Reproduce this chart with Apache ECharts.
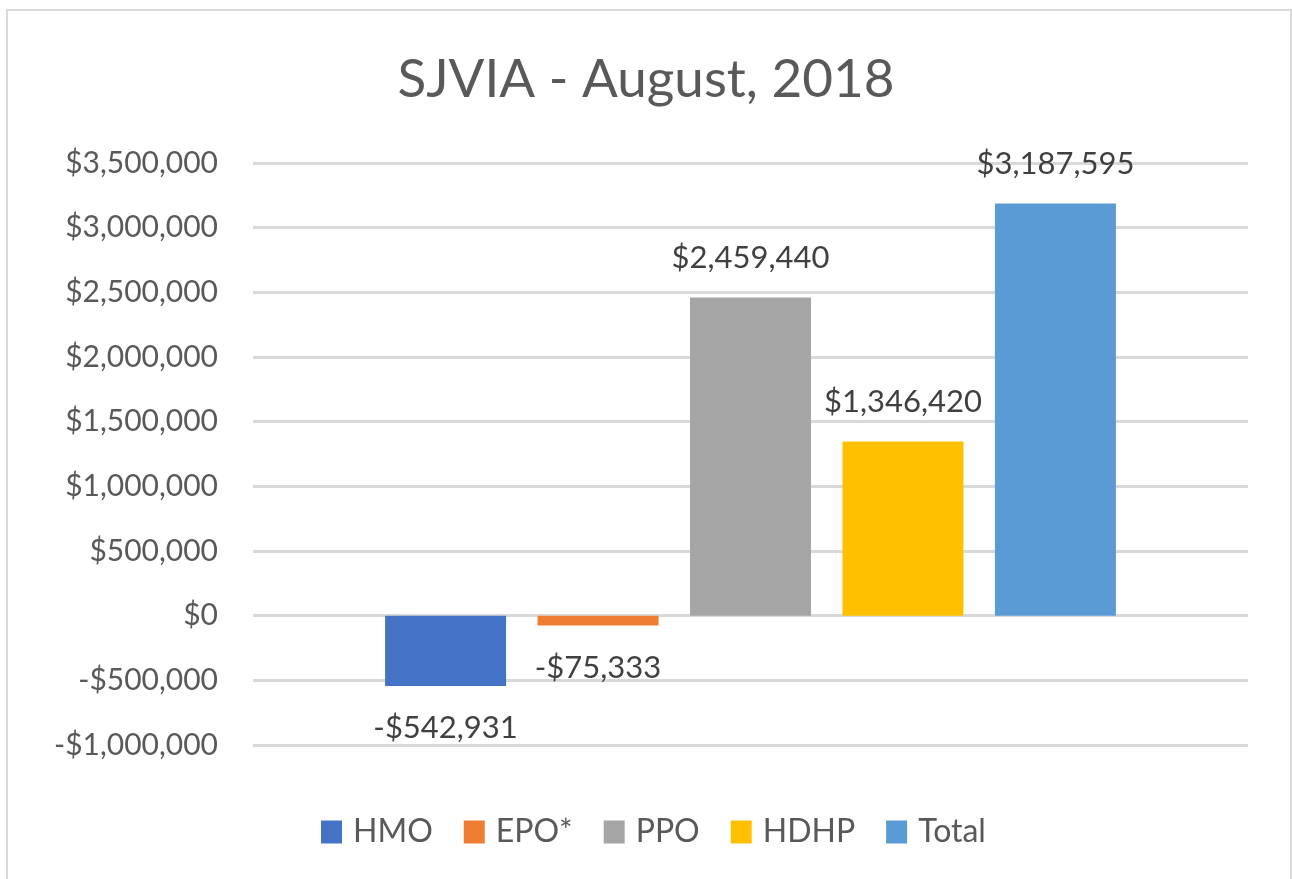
<!DOCTYPE html>
<html>
<head>
<meta charset="utf-8">
<script src="https://cdn.jsdelivr.net/npm/echarts@6/dist/echarts.min.js"></script>
<style>
  html, body { margin: 0; padding: 0; background: #ffffff; }
  #chart { width: 1292px; height: 879px; }
</style>
</head>
<body>
<div id="chart"></div>
<script>
const titleText = 'SJVIA - August, 2018';
const categories = ['August, 2018'];
const seriesNames = ['HMO', 'EPO*', 'PPO', 'HDHP', 'Total'];
const seriesValues = [-542931, -75333, 2459440, 1346420, 3187595];
const seriesColors = ['#4472C4', '#ED7D31', '#A5A5A5', '#FFC000', '#5B9BD5'];
const yTicks = [-1000000, -500000, 0, 500000, 1000000, 1500000, 2000000, 2500000, 3000000, 3500000];

const FONT = 'Lato';

function money(v) {
  const s = Math.abs(Math.round(v)).toString().replace(/\B(?=(\d{3})+(?!\d))/g, ',');
  return (v < 0 ? '-$' : '$') + s;
}

const chart = echarts.init(document.getElementById('chart'), null, { renderer: 'canvas' });

const series = seriesNames.map((name, i) => ({
  name: name,
  type: 'bar',
  data: [seriesValues[i]],
  barWidth: 121,
  barGap: '26%',
  itemStyle: { color: seriesColors[i] },
  label: {
    show: true,
    position: seriesValues[i] < 0 ? 'bottom' : 'top',
    distance: seriesValues[i] < 0 ? 27 : 24,
    formatter: p => money(p.value),
    color: '#404040',
    fontFamily: FONT,
    fontSize: 31
  }
}));

chart.setOption({
  animation: false,
  backgroundColor: '#ffffff',
  title: {
    text: titleText,
    left: 'center',
    top: 48,
    textStyle: { fontFamily: FONT, fontSize: 53, fontWeight: 'normal', color: '#595959' }
  },
  legend: {
    data: seriesNames,
    left: 316,
    top: 811,
    itemWidth: 21,
    itemHeight: 23,
    itemGap: 31,
    icon: 'rect',
    textStyle: { fontFamily: FONT, fontSize: 32, color: '#595959', padding: [0, 0, 0, 6] }
  },
  grid: { left: 253, right: 44, top: 163, bottom: 134, containLabel: false },
  xAxis: {
    type: 'category',
    data: categories,
    axisLine: { show: false },
    axisTick: { show: false },
    axisLabel: { show: false },
    splitLine: { show: false }
  },
  yAxis: {
    type: 'value',
    min: yTicks[0],
    max: yTicks[yTicks.length - 1],
    interval: 500000,
    axisLine: { show: false },
    axisTick: { show: false },
    axisLabel: {
      formatter: v => money(v),
      fontFamily: FONT,
      fontSize: 30,
      color: '#595959',
      margin: 35
    },
    splitLine: { lineStyle: { color: '#d9d9d9', width: 3 } }
  },
  graphic: [{
    type: 'rect',
    shape: { x: 7, y: 10, width: 1284, height: 900 },
    style: { fill: 'none', stroke: '#d9d9d9', lineWidth: 2 },
    silent: true,
    z: -1
  }],
  series: series
});
</script>
</body>
</html>
